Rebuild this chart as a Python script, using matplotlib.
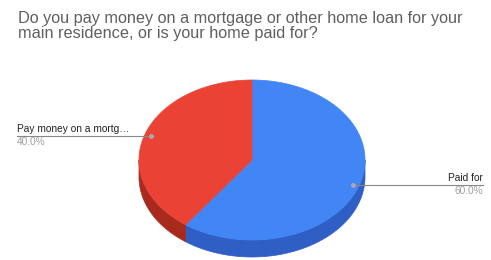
import matplotlib.pyplot as plt
import numpy as np
from matplotlib.patches import Polygon

labels = ["Paid for", "Pay money on a mortg…"]
values = [60.0, 40.0]
top_colors = ["#4285f4", "#ea4335"]
side_colors = ["#2f5fc4", "#a82a1e"]

W, H = 491, 260
CX, CY, RX, RY = 252, 160, 113, 80
DEPTH = 17


def ell(theta_deg, r=1.0):
    t = np.radians(theta_deg)
    return CX + r * RX * np.sin(t), CY - r * RY * np.cos(t)


def make_figure():
    fig = plt.figure(figsize=(W / 100, H / 100), dpi=100)
    ax = fig.add_axes([0, 0, 1, 1])
    ax.set_xlim(0, W)
    ax.set_ylim(H, 0)
    ax.axis("off")
    return fig, ax


def add_pie(ax):
    total = sum(values)
    start = 0.0
    spans = []
    for v in values:
        end = start + 360.0 * v / total
        spans.append((start, end))
        start = end

    # side walls (front half: 90..270 deg clockwise from top)
    for (a, b), col in zip(spans, side_colors):
        lo, hi = max(a, 90), min(b, 270)
        if hi <= lo:
            continue
        th = np.linspace(lo, hi, 80)
        xs, ys = ell(th)
        pts = list(zip(xs, ys)) + list(zip(xs[::-1], ys[::-1] + DEPTH))
        ax.add_patch(Polygon(pts, closed=True, fc=col, ec=col, lw=0.5))

    # top faces
    for (a, b), col in zip(spans, top_colors):
        th = np.linspace(a, b, 200)
        xs, ys = ell(th)
        pts = [(CX, CY)] + list(zip(xs, ys))
        ax.add_patch(Polygon(pts, closed=True, fc=col, ec=col, lw=0.5))
    return spans


def add_labels(ax, spans):
    total = sum(values)
    for (a, b), lab, v in zip(spans, labels, values):
        mid = (a + b) / 2
        px, py = ell(mid, 0.94)
        right = px > CX
        if right:
            py += 2
            tx, ha = 483, "right"
        else:
            py -= 1
            tx, ha = 17, "left"
        ax.plot([px, tx], [py, py], color="#888888", lw=0.8)
        ax.plot(px, py, "o", ms=2.5, color="#aaaaaa")
        ax.text(tx, py - 2, lab, ha=ha, va="bottom", fontsize=7.3,
                color="#222222", family="Liberation Sans")
        ax.text(tx, py + 1, f"{v / total * 100:.1f}%", ha=ha, va="top",
                fontsize=7.3, color="#9e9e9e", family="Liberation Sans")


def add_title(ax):
    ax.text(18, 11, "Do you pay money on a mortgage or other home loan for your\n"
            "main residence, or is your home paid for?",
            ha="left", va="top", fontsize=11.7, color="#5f5f5f",
            family="Liberation Sans", linespacing=0.98)


def entry_point():
    fig, ax = make_figure()
    add_title(ax)
    spans = add_pie(ax)
    add_labels(ax, spans)
    fig.savefig("out.png", dpi=100)


if __name__ == "__main__":
    entry_point()
